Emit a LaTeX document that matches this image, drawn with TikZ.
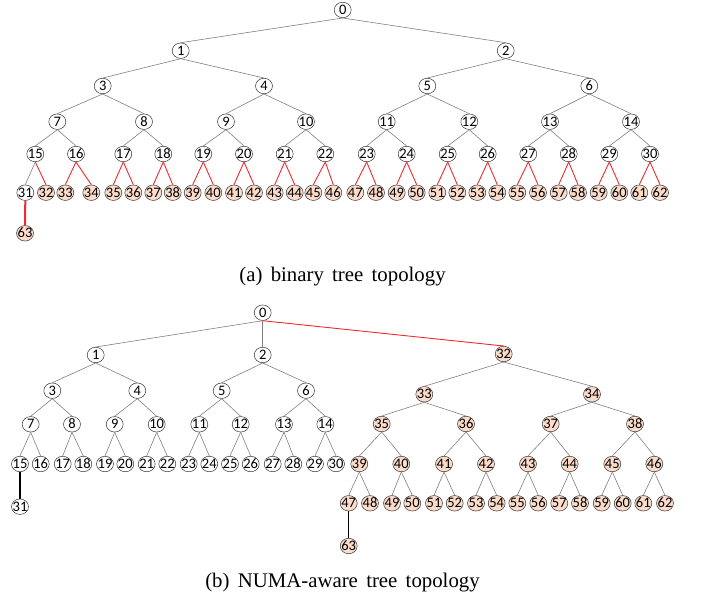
\documentclass[tikz,border=0pt]{standalone}
\usepackage{fontspec}
\setmainfont{Liberation Serif}
\newfontfamily\numfont{Carlito}
\usetikzlibrary{shapes.geometric}

\definecolor{leaffill}{HTML}{FBDCCB}
\definecolor{edgegray}{HTML}{808080}
\definecolor{edgered}{HTML}{EE2A2F}

\newcommand{\capfont}{\fontsize{20.8}{24}\selectfont\spaceskip 8.3pt\relax}
\newcommand{\nid}[1]{\makebox[0pt]{#1}}

\tikzset{
  tnode/.style={ellipse, draw=black!80, line width=0.5pt, fill=white,
    minimum width=17pt, minimum height=15.5pt, inner sep=0pt,
    text height=9.1pt, text depth=0pt,
    font=\numfont\fontsize{14.5}{14.5}\selectfont},
  leaf/.style={tnode, fill=leaffill},
  link/.style={draw=edgegray, line width=0.6pt},
  redlink/.style={draw=edgered, line width=0.9pt},
  caption/.style={anchor=base, font=\capfont}
}

\begin{document}
\begin{tikzpicture}[x=1pt,y=-1pt]
\useasboundingbox (0,0) rectangle (704,599);

% 1. Tree (a): binary tree, node positions level by level
\node[tnode] (a0) at (342.7,10) {\nid{0}};
\foreach \n/\x in {1/180.7,2/505.7}
  \node[tnode] (a\n) at (\x,50.7) {\nid{\n}};
\foreach \n/\x in {3/102.7,4/264,5/427.3,6/589.3}
  \node[tnode] (a\n) at (\x,86) {\nid{\n}};
\foreach \n/\x in {7/57.3,8/144,9/226,10/306,11/386.7,12/469.3,13/550,14/631}
  \node[tnode] (a\n) at (\x,121.7) {\nid{\n}};
\foreach \n/\x in {15/35.3,16/76,17/123.3,18/163.3,19/203.3,20/244,21/284.7,22/325.3,
    23/366.7,24/406.7,25/447.7,26/487.7,27/528.3,28/568.7,29/609.3,30/650}
  \node[tnode] (a\n) at (\x,154) {\nid{\n}};
\node[tnode] (a31) at (25.3,192.7) {\nid{31}};
\foreach \n/\x in {32/46,33/65.3,34/91.3,35/113.3,36/133.3,37/153.3,38/172.7,39/192.7,
    40/213.3,41/234,42/254,43/274.7,44/294.7,45/313.3,46/333.3,47/355.3,48/376,
    49/396.7,50/416.7,51/437.3,52/457.3,53/477.3,54/497.3,55/517.3,56/538,
    57/558.7,58/578,59/598.7,60/619.3,61/639.3,62/660}
  \node[leaf] (a\n) at (\x,192.7) {\nid{\n}};
\node[leaf] (a63) at (25,233.3) {\nid{63}};

% 2. Tree (a): edges, red where the child is a leaf node
\foreach \p in {0,...,15} {
  \pgfmathtruncatemacro{\l}{2*\p+1}
  \pgfmathtruncatemacro{\r}{2*\p+2}
  \draw[link] (a\p.south) -- (a\l.north);
  \ifnum\r<32 \draw[link] (a\p.south) -- (a\r.north);
  \else \draw[redlink] (a\p.south) -- (a\r.north); \fi
}
\foreach \p in {16,...,30} {
  \pgfmathtruncatemacro{\l}{2*\p+1}
  \pgfmathtruncatemacro{\r}{2*\p+2}
  \draw[redlink] (a\p.south) -- (a\l.north);
  \draw[redlink] (a\p.south) -- (a\r.north);
}
\draw[draw=edgered, line width=2pt] (a31.south) -- (a63.north);

\node[caption] (capa) at (342.5,281.5) {(a) binary tree topology};

% 3. Tree (b): NUMA-aware tree, left half
\node[tnode] (b0) at (262.7,312.7) {\nid{0}};
\foreach \n/\x in {1/95.7,2/262.7}
  \node[tnode] (b\n) at (\x,355) {\nid{\n}};
\foreach \n/\x in {3/52.3,4/137.3,5/221.7,6/306}
  \node[tnode] (b\n) at (\x,390.7) {\nid{\n}};
\foreach \n/\x in {7/30.7,8/72,9/114.7,10/156.7,11/199.3,12/240.7,13/284,14/325.3}
  \node[tnode] (b\n) at (\x,424.3) {\nid{\n}};
\foreach \n/\x in {15/20,16/40.7,17/62.7,18/83.3,19/105,20/125.3,21/146.7,22/167.3,
    23/188.7,24/209.3,25/230,26/250.7,27/272.7,28/293.3,29/315,30/336}
  \node[tnode] (b\n) at (\x,464) {\nid{\n}};
\node[tnode] (b31) at (20,506.7) {\nid{31}};

% 4. Tree (b): right half (second NUMA node)
\node[leaf] (b32) at (503.7,354) {\nid{32}};
\foreach \n/\x in {33/424.3,34/592}
  \node[leaf] (b\n) at (\x,394.3) {\nid{\n}};
\foreach \n/\x in {35/381.7,36/466,37/550.7,38/635}
  \node[leaf] (b\n) at (\x,424) {\nid{\n}};
\foreach \n/\x in {39/359.3,40/401.3,41/444,42/486,43/528,44/569.7,45/612.3,46/654.3}
  \node[leaf] (b\n) at (\x,464) {\nid{\n}};
\foreach \n/\x in {47/348.7,48/370,49/392,50/412.3,51/434,52/454.7,53/476,54/496.7,
    55/517.3,56/538.3,57/559.3,58/580,59/601.7,60/622.7,61/643.3,62/665}
  \node[leaf] (b\n) at (\x,503.3) {\nid{\n}};
\node[leaf] (b63) at (348.7,546) {\nid{63}};

% 5. Tree (b): edges
\foreach \p in {0,...,14} {
  \pgfmathtruncatemacro{\l}{2*\p+1}
  \pgfmathtruncatemacro{\r}{2*\p+2}
  \pgfmathtruncatemacro{\q}{32+\p}
  \pgfmathtruncatemacro{\ql}{33+2*\p}
  \pgfmathtruncatemacro{\qr}{34+2*\p}
  \draw[link] (b\p.south) -- (b\l.north);
  \draw[link] (b\p.south) -- (b\r.north);
  \draw[link] (b\q.south) -- (b\ql.north);
  \draw[link] (b\q.south) -- (b\qr.north);
}
\draw[redlink] (b0.south) -- (b32.north);
\draw[line width=1.2pt] (b15.south) -- (b31.north);
\draw[line width=1.2pt] (b47.south) -- (b63.north);

\node[caption] (capb) at (342.5,587) {(b) NUMA-aware tree topology};

\end{tikzpicture}
\end{document}
